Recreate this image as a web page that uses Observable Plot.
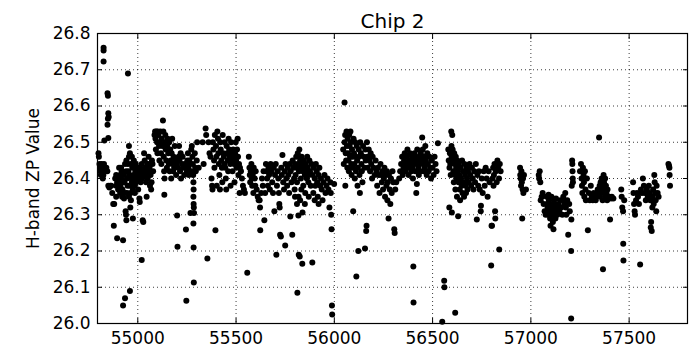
<!DOCTYPE html>
<html>
<head>
<meta charset="utf-8">
<script src="https://cdn.jsdelivr.net/npm/d3@7"></script>
<script src="https://cdn.jsdelivr.net/npm/@observablehq/plot@0.6"></script>
<style>
  html, body { margin: 0; padding: 0; background: #fff; }
  #chart svg { display: block; }
</style>
</head>
<body>
<div id="chart"></div>
<script>
const title = "Chip 2";
const yLabel = "H-band ZP Value";
const xTicks = [55000, 55500, 56000, 56500, 57000, 57500];
const yTicks = [26.0, 26.1, 26.2, 26.3, 26.4, 26.5, 26.6, 26.7, 26.8];
const xDomain = [54795, 57797];
const yDomain = [26.0, 26.8];

// [MJD, ZP] pairs, grouped by observing season
const season1 = [[54800,26.47],[54802,26.46],[54805,26.44],[54808,26.43],[54810,26.42],[54812,26.41],[54815,26.44],[54818,26.43],[54820,26.42],[54822,26.40],[54825,26.41],[54828,26.44],[54830,26.43],[54826,26.761],[54826,26.753],[54826,26.723],[54846,26.635],[54848,26.628],[54850,26.58],[54852,26.57],[54848,26.565],[54846,26.548],[54850,26.512],[54830,26.505],
[54840,26.43],[54845,26.42],[54850,26.38],[54855,26.375],[54860,26.38],[54865,26.38],[54870,26.36],[54875,26.33],[54880,26.33],[54878,26.27],[54890,26.35],[54895,26.235],[54885,26.40],[54890,26.41],[54895,26.39],[54900,26.40],[54905,26.43],[54905,26.39],[54910,26.41],[54912,26.38],[54915,26.40],[54918,26.42],[54920,26.395],[54922,26.37],[54925,26.23],[54925,26.05],[54930,26.41],[54932,26.39],[54935,26.07],[54935,26.36],[54938,26.31],[54940,26.30],[54942,26.285],[54940,26.42],[54942,26.45],[54945,26.40],[54948,26.38],[54950,26.69],[54950,26.44],[54952,26.42],[54955,26.49],[54955,26.46],[54958,26.41],[54960,26.38],[54960,26.09],[54962,26.32],[54963,26.36],[54965,26.44],[54968,26.40],[54970,26.39],[54972,26.43],[54975,26.29],[54975,26.37],[54978,26.41],[54980,26.45],[54982,26.40],[54985,26.38],[54988,26.42],[54990,26.44],[54992,26.39],[54995,26.41],[54998,26.43],[55000,26.40],[55002,26.37],[55005,26.42],[55008,26.345],[55010,26.335],[55012,26.43],[55015,26.39],[55018,26.41],[55020,26.44],[55020,26.175],[55022,26.40],[55025,26.285],[55028,26.28],[55030,26.42],[55032,26.47],[55035,26.45],[55038,26.41],[55040,26.43],[55042,26.39],[55045,26.35],[55048,26.44],[55050,26.40],[55052,26.42],[55055,26.46],[55058,26.44],[55060,26.43],[55062,26.38],[55065,26.41],[55068,26.37],[55070,26.39],[55072,26.45],[55075,26.44],[55078,26.42],
[54900,26.37],[54910,26.36],[54920,26.35],[54930,26.345],[54945,26.36],[54955,26.35],[54965,26.34],[54985,26.36],[54890,26.38],[54915,26.43],[54935,26.44],[54970,26.46],[54960,26.47]];

const season2 = [[55085,26.52],[55088,26.53],[55090,26.51],[55092,26.48],[55095,26.53],[55098,26.50],[55100,26.47],[55102,26.53],[55105,26.52],[55108,26.49],[55110,26.45],[55112,26.50],[55115,26.53],[55118,26.47],[55120,26.44],[55122,26.51],[55125,26.49],[55128,26.56],[55130,26.53],[55132,26.46],[55134,26.42],[55135,26.355],[55136,26.40],[55138,26.50],[55140,26.52],[55142,26.48],[55145,26.45],[55148,26.43],[55150,26.49],[55152,26.51],[55155,26.47],[55158,26.44],[55160,26.50],[55162,26.42],[55165,26.48],[55168,26.45],[55170,26.40],[55172,26.47],[55175,26.51],[55178,26.44],[55180,26.42],[55182,26.46],[55185,26.43],[55188,26.49],[55190,26.45],[55195,26.41],[55198,26.44],[55200,26.298],[55202,26.212],[55205,26.43],[55208,26.46],[55210,26.49],[55212,26.45],[55215,26.42],[55218,26.47],[55220,26.40],[55225,26.44],[55228,26.46],[55232,26.43],[55236,26.41],[55240,26.44],[55245,26.259],[55247,26.063],[55250,26.42],[55252,26.45],[55255,26.47],[55258,26.43],[55260,26.41],[55262,26.45],[55265,26.44],[55268,26.305],[55270,26.42],[55272,26.48],[55275,26.49],[55278,26.46],[55280,26.44],[55282,26.41],[55283,26.39],[55284,26.37],[55283,26.35],[55284,26.33],[55285,26.32],[55286,26.305],[55283,26.276],[55284,26.21],[55285,26.113],[55290,26.47],[55292,26.43],[55295,26.42],[55300,26.45],[55302,26.50],[55310,26.43]];

const season3 = [[55330,26.50],[55335,26.44],[55345,26.538],[55348,26.52],[55354,26.179],[55360,26.50],[55365,26.47],[55370,26.46],[55375,26.40],[55378,26.38],[55380,26.37],[55382,26.50],[55385,26.48],[55388,26.45],[55390,26.43],[55392,26.52],[55395,26.257],[55398,26.49],[55400,26.46],[55402,26.38],[55405,26.53],[55408,26.51],[55410,26.47],[55412,26.44],[55415,26.41],[55418,26.37],[55420,26.50],[55422,26.48],[55425,26.45],[55428,26.43],[55430,26.39],[55432,26.52],[55435,26.47],[55438,26.46],[55440,26.44],[55442,26.50],[55445,26.43],[55448,26.40],[55450,26.37],[55452,26.49],[55455,26.47],[55458,26.45],[55460,26.42],[55462,26.51],[55465,26.48],[55468,26.46],[55470,26.44],[55472,26.38],[55475,26.50],[55478,26.47],[55480,26.45],[55482,26.42],[55485,26.48],[55488,26.46],[55490,26.44],[55492,26.39],[55495,26.47],[55498,26.50],[55500,26.45],[55502,26.43],[55505,26.48],[55508,26.51],[55510,26.46],[55512,26.41],[55515,26.44],[55518,26.36],[55520,26.43],[55525,26.42],[55530,26.40],[55535,26.38],[55540,26.37],[55545,26.36]];

const season4 = [[55557,26.14],[55565,26.46],[55568,26.43],[55570,26.41],[55572,26.39],[55575,26.42],[55578,26.44],[55580,26.40],[55582,26.38],[55585,26.41],[55588,26.36],[55590,26.43],[55595,26.40],[55598,26.38],[55600,26.42],[55605,26.37],[55610,26.35],[55615,26.34],[55620,26.34],[55622,26.32],[55623,26.257],[55628,26.36],[55632,26.40],[55636,26.38],[55640,26.42],[55644,26.285],[55648,26.36],[55652,26.44],[55655,26.42],[55658,26.40],[55662,26.38],[55665,26.43],[55668,26.41],[55672,26.37],[55676,26.44],[55680,26.42],[55684,26.39],[55688,26.36],[55692,26.43],[55695,26.31],[55698,26.41],[55702,26.44],[55705,26.19],[55708,26.38],[55712,26.42],[55715,26.40],[55718,26.36],[55720,26.33],[55722,26.32],[55724,26.245],[55728,26.24],[55730,26.43],[55733,26.41],[55736,26.465],[55740,26.39],[55744,26.37],[55748,26.42],[55750,26.215],[55752,26.44],[55756,26.40],[55760,26.38],[55763,26.43],[55766,26.41],[55770,26.36],[55773,26.44],[55776,26.295],[55778,26.42],[55782,26.39],[55786,26.245],[55788,26.45],[55792,26.43],[55795,26.40],[55798,26.37],[55800,26.44],[55803,26.41],[55806,26.46],[55808,26.43],[55810,26.39],[55812,26.085],[55814,26.47],[55816,26.44],[55817,26.298],[55818,26.35],[55819,26.19],[55820,26.42],[55822,26.48],[55824,26.185],[55826,26.45],[55828,26.43],[55830,26.40],[55832,26.37],[55834,26.46],[55836,26.44],[55837,26.165],[55838,26.306],[55840,26.42],[55842,26.38],[55845,26.45],[55848,26.43],[55850,26.41],[55852,26.36],[55855,26.44],[55858,26.42],[55860,26.40],[55862,26.46],[55865,26.43],[55868,26.39],[55870,26.41],[55873,26.45],[55876,26.42],[55880,26.38],[55884,26.44],[55888,26.168],[55890,26.41],[55893,26.36],[55896,26.43],[55900,26.40],[55903,26.38],[55906,26.44],[55910,26.42],[55913,26.39],[55916,26.35],[55920,26.41],[55924,26.43],[55928,26.38],[55932,26.40],[55936,26.37],[55940,26.34],[55945,26.39],[55950,26.41],[55955,26.36],[55960,26.38],[55965,26.40],[55970,26.37],[55975,26.32],[55980,26.39],[55982,26.36],[55984,26.30],[55986,26.26],[55988,26.05],[55989,26.025],[55999,26.385],
[55800,26.35],[55810,26.33],[55826,26.34],[55850,26.33],[55870,26.35],[55900,26.34],[55920,26.33]];

const season5 = [[56045,26.48],[56048,26.44],[56052,26.61],[56052,26.50],[56055,26.52],[56056,26.38],[56058,26.47],[56060,26.45],[56062,26.53],[56064,26.49],[56066,26.43],[56068,26.51],[56070,26.47],[56072,26.45],[56074,26.42],[56076,26.52],[56078,26.49],[56080,26.46],[56082,26.53],[56084,26.50],[56086,26.44],[56088,26.41],[56090,26.48],[56092,26.46],[56094,26.43],[56096,26.31],[56098,26.51],[56100,26.47],[56102,26.44],[56104,26.40],[56106,26.50],[56108,26.46],[56110,26.42],[56112,26.13],[56114,26.49],[56116,26.45],[56118,26.38],[56120,26.43],[56122,26.20],[56124,26.48],[56126,26.46],[56128,26.41],[56130,26.36],[56132,26.50],[56135,26.47],[56138,26.44],[56140,26.42],[56143,26.39],[56146,26.49],[56150,26.46],[56153,26.43],[56156,26.207],[56158,26.48],[56160,26.45],[56162,26.255],[56164,26.27],[56166,26.50],[56168,26.46],[56170,26.43],[56175,26.48],[56178,26.45],[56182,26.42],[56185,26.47],[56188,26.44],[56192,26.40],[56195,26.46],[56200,26.43],[56205,26.41],[56210,26.45],[56215,26.42],[56218,26.38],[56222,26.43],[56225,26.41],[56230,26.36],[56235,26.44],[56238,26.41],[56242,26.39],[56245,26.42],[56248,26.37],[56252,26.40],[56255,26.43],[56258,26.35],[56262,26.41],[56265,26.38],[56268,26.42],[56270,26.34],[56272,26.39],[56276,26.29],[56278,26.41],[56282,26.37],[56285,26.33],[56288,26.40],[56292,26.36],[56296,26.42],[56300,26.39],[56305,26.26],[56307,26.25],[56310,26.37],[56315,26.39]];

const season6 = [[56330,26.40],[56335,26.42],[56340,26.44],[56345,26.46],[56348,26.41],[56352,26.43],[56355,26.45],[56358,26.47],[56362,26.42],[56365,26.44],[56368,26.46],[56372,26.48],[56375,26.43],[56378,26.41],[56382,26.45],[56385,26.47],[56388,26.44],[56392,26.42],[56395,26.46],[56398,26.43],[56400,26.40],[56402,26.157],[56403,26.058],[56405,26.45],[56408,26.47],[56410,26.44],[56412,26.42],[56415,26.46],[56417,26.36],[56420,26.385],[56422,26.48],[56425,26.45],[56428,26.43],[56430,26.41],[56432,26.46],[56435,26.44],[56438,26.42],[56440,26.47],[56443,26.45],[56447,26.513],[56450,26.48],[56452,26.44],[56455,26.42],[56458,26.46],[56460,26.43],[56463,26.49],[56466,26.45],[56470,26.41],[56473,26.47],[56476,26.44],[56480,26.42],[56484,26.46],[56488,26.43],[56492,26.40],[56496,26.45],[56500,26.43],[56505,26.41],[56510,26.46],[56515,26.44],[56520,26.42],[56527,26.497]];

const season7 = [[56549,26.005],[56559,26.118],[56560,26.10],[56615,26.03],
[56580,26.48],[56582,26.45],[56585,26.32],[56586,26.43],[56588,26.47],[56590,26.44],[56592,26.41],[56595,26.53],[56596,26.49],[56597,26.46],[56598,26.306],[56600,26.52],[56602,26.48],[56604,26.45],[56606,26.42],[56608,26.39],[56610,26.47],[56612,26.44],[56614,26.41],[56616,26.37],[56618,26.46],[56620,26.43],[56622,26.40],[56624,26.35],[56626,26.45],[56628,26.42],[56630,26.296],[56632,26.39],[56634,26.44],[56636,26.41],[56638,26.37],[56640,26.34],[56642,26.43],[56645,26.40],[56648,26.38],[56650,26.45],[56652,26.36],[56655,26.42],[56658,26.39],[56660,26.35],[56662,26.44],[56665,26.41],[56668,26.38],[56670,26.36],[56672,26.43],[56675,26.40],[56678,26.37],[56680,26.42],[56684,26.39],[56688,26.44],[56692,26.41],[56696,26.38],[56700,26.43],[56704,26.40],[56708,26.37],[56712,26.42],[56716,26.39],[56720,26.44],[56725,26.287],[56728,26.41],[56732,26.38],[56736,26.42],[56740,26.37],[56745,26.31],[56746,26.325],[56750,26.40],[56755,26.36],[56760,26.42],[56765,26.38],[56770,26.43],[56775,26.40],[56780,26.35],[56785,26.42],[56790,26.39],[56798,26.16],[56800,26.27],[56802,26.27],[56805,26.40],[56808,26.43],[56810,26.38],[56812,26.41],[56815,26.44],[56818,26.31],[56819,26.29],[56822,26.42],[56826,26.39],[56830,26.45],[56834,26.43],[56838,26.40],[56839,26.204],[56842,26.44],[56846,26.42]];

const season8 = [[56945,26.43],[56946,26.41],[56948,26.40],[56950,26.38],[56952,26.42],[56954,26.39],[56956,26.29],[56958,26.37],[56960,26.40],[56962,26.36],[56965,26.41],[56975,26.37]];

const season9 = [[57040,26.41],[57042,26.40],[57045,26.42],[57048,26.39],[57050,26.34],[57055,26.35],[57060,26.36],[57065,26.33],[57070,26.31],[57075,26.30],[57080,26.35],[57082,26.33],[57085,26.32],[57088,26.30],[57090,26.355],[57092,26.34],[57095,26.31],[57098,26.29],[57100,26.27],[57102,26.33],[57105,26.35],[57108,26.32],[57110,26.30],[57112,26.28],[57115,26.26],[57118,26.34],[57120,26.33],[57122,26.31],[57125,26.29],[57128,26.345],[57130,26.32],[57135,26.30],[57140,26.33],[57145,26.31],[57150,26.34],[57155,26.32],[57160,26.30],[57165,26.35],[57168,26.34],[57170,26.33],[57175,26.36],[57178,26.32],[57180,26.30],[57185,26.34],[57190,26.245],[57195,26.33],[57198,26.31],[57205,26.20],[57205,26.014],[57206,26.287],[57208,26.38],[57210,26.45],[57211,26.44],[57212,26.42],[57213,26.40],[57214,26.39]];

const season10 = [[57250,26.42],[57255,26.44],[57258,26.40],[57260,26.38],[57262,26.36],[57265,26.43],[57268,26.41],[57270,26.39],[57272,26.35],[57275,26.42],[57278,26.37],[57280,26.34],[57285,26.40],[57290,26.257],[57295,26.36],[57300,26.34],[57305,26.38],[57310,26.35],[57315,26.34],[57320,26.36],[57325,26.35],[57330,26.34],[57335,26.35],[57340,26.37],[57345,26.36],[57347,26.513],[57350,26.38],[57352,26.35],[57355,26.39],[57358,26.37],[57360,26.40],[57362,26.36],[57365,26.34],[57367,26.15],[57368,26.38],[57370,26.41],[57372,26.39],[57375,26.37],[57378,26.40],[57380,26.35],[57382,26.38],[57385,26.36],[57388,26.34],[57390,26.37],[57392,26.35],[57395,26.345],[57400,26.35],[57403,26.287],[57408,26.345],[57412,26.35],[57420,26.345]];

const season11 = [[57460,26.37],[57462,26.35],[57465,26.32],[57469,26.31],[57470,26.22],[57471,26.174],[57475,26.34],[57520,26.39],[57522,26.36],[57525,26.33],[57528,26.31],[57530,26.30],[57535,26.34],[57540,26.36],[57545,26.35],[57550,26.33],[57556,26.163],[57560,26.37],[57565,26.36],[57570,26.40],[57575,26.38],[57580,26.36],[57585,26.34],[57590,26.37],[57595,26.35],[57600,26.38],[57605,26.36],[57608,26.34],[57610,26.265],[57612,26.28],[57615,26.255],[57618,26.32],[57620,26.35],[57622,26.37],[57625,26.33],[57628,26.41],[57630,26.39],[57632,26.36],[57635,26.34],[57638,26.31],[57640,26.38],[57645,26.36],[57650,26.35],[57700,26.44],[57703,26.435],[57705,26.43],[57706,26.41],[57708,26.38]];

const points = [season1, season2, season3, season4, season5, season6, season7, season8, season9, season10, season11]
  .flat().map(([mjd, zp]) => ({mjd, zp}));

const font = "DejaVu Sans, Liberation Sans, sans-serif";

const chart = Plot.plot({
  width: 697,
  height: 348,
  marginTop: 33,
  marginLeft: 97,
  marginRight: 10,
  marginBottom: 25,
  style: {fontFamily: font, fontSize: "17px", color: "#000", background: "#fff"},
  x: {domain: xDomain, ticks: xTicks, label: null},
  y: {domain: yDomain, ticks: yTicks, label: null},
  marks: [
    Plot.gridX(xTicks, {stroke: "#000", strokeOpacity: 0.85, strokeDasharray: "1,3", strokeWidth: 0.9}),
    Plot.gridY(yTicks, {stroke: "#000", strokeOpacity: 0.85, strokeDasharray: "1,3", strokeWidth: 0.9}),
    Plot.axisX(xTicks, {anchor: "bottom", tickSize: -5, tickPadding: 13, tickFormat: d => String(d), label: null, fontSize: 17}),
    Plot.axisX(xTicks, {anchor: "top", tickSize: -5, tickFormat: () => "", label: null}),
    Plot.axisY(yTicks, {anchor: "left", tickSize: -5, tickPadding: 12, tickFormat: d => d.toFixed(1), label: null, fontSize: 17}),
    Plot.axisY(yTicks, {anchor: "right", tickSize: -5, tickFormat: () => "", label: null}),
    Plot.dot(points, {x: "mjd", y: "zp", r: 3, fill: "#000", stroke: null}),
    Plot.frame({stroke: "#000", strokeWidth: 1.2}),
    Plot.text([title], {frameAnchor: "top", dy: -6, lineAnchor: "bottom", fontSize: 20, fill: "#000"}),
    Plot.text([yLabel], {frameAnchor: "left", dx: -64, rotate: -90, textAnchor: "middle", fontSize: 17, fill: "#000"})
  ]
});
document.getElementById("chart").appendChild(chart);
</script>
</body>
</html>
